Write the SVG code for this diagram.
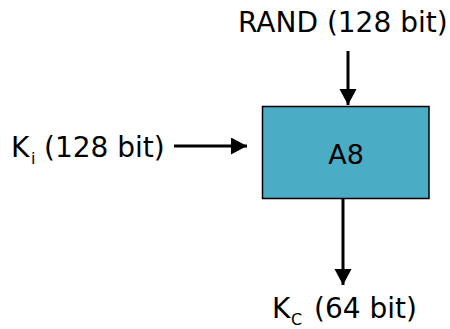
<svg xmlns="http://www.w3.org/2000/svg" width="450" height="329" viewBox="0 0 450 329">
<defs>
<style>
.t{font-family:"DejaVu Sans",Verdana,sans-serif;font-size:28px;fill:#000}
.s{font-family:"DejaVu Sans",Verdana,sans-serif;font-size:16px;fill:#000}
.c{stroke:#000;stroke-width:3;fill:none}
</style>
<marker id="ah" markerUnits="userSpaceOnUse" markerWidth="18" markerHeight="18" refX="16" refY="8.5" orient="auto">
<path d="M0,0 L16,8.5 L0,17 Z" fill="#000"/>
</marker>
</defs>
<rect width="450" height="329" fill="#fff"/>
<g id="connectors">
<line class="c" x1="348" y1="51" x2="348" y2="105" marker-end="url(#ah)"/>
<line class="c" x1="174" y1="146" x2="247" y2="146" marker-end="url(#ah)"/>
<line class="c" x1="343" y1="199" x2="343" y2="285" marker-end="url(#ah)"/>
</g>
<g id="a8">
<rect x="262.5" y="106.5" width="166.5" height="92" fill="#4BACC6" stroke="#000" stroke-width="1.5"/>
<text class="t" x="346" y="164" text-anchor="middle" style="font-size:27px">A8</text>
</g>
<g id="rand">
<text class="t" x="238" y="32">RAND (128 bit)</text>
</g>
<g id="ki">
<text class="t" x="11" y="157">K</text>
<text class="s" x="31" y="164">i</text>
<text class="t" x="44" y="157">(128 bit)</text>
</g>
<g id="kc">
<text class="t" x="272" y="318">K</text>
<text class="s" x="291" y="325">C</text>
<text class="t" x="314" y="318">(64 bit)</text>
</g>
</svg>
